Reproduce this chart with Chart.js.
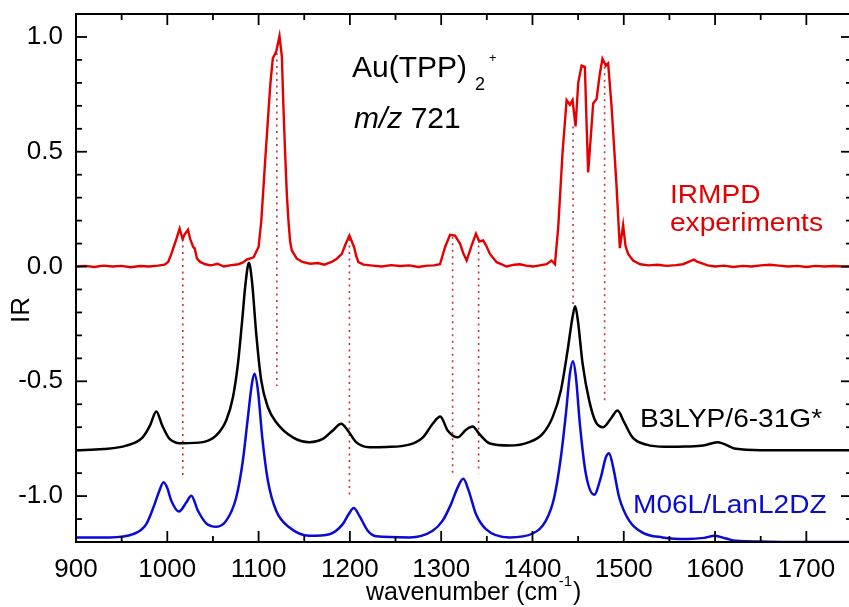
<!DOCTYPE html>
<html>
<head>
<meta charset="utf-8">
<script src="https://cdn.jsdelivr.net/npm/chart.js@4.4.1/dist/chart.umd.min.js"></script>
<style>
  html, body { margin: 0; padding: 0; background: #fff; overflow: hidden; width: 849px; height: 607px; }
  canvas { display: block; }
</style>
</head>
<body>
<canvas id="spectra" width="852" height="607"></canvas>
<script>
// IRMPD experimental spectrum: [wavenumber (cm-1), relative intensity]
const irmpdSpectrum = [
  [900,0.000],[910,0.003],[920,-0.002],[930,0.004],[940,0.000],[950,0.003],[960,-0.003],[970,0.002],
  [980,0.000],[990,0.004],[997,0.008],[1001,0.020],[1004,0.050],[1007,0.085],[1010,0.120],[1013.5,0.165],
  [1016.8,0.120],[1019,0.140],[1022.7,0.160],[1025,0.120],[1028.5,0.084],[1030,0.080],[1032.5,0.035],
  [1036,0.020],[1041.6,0.010],[1048,0.005],[1055,0.012],[1062,0.000],[1070,0.006],[1078,0.010],
  [1083,0.018],[1087,0.030],[1094.5,0.040],[1100,0.085],[1103,0.200],[1107.2,0.460],[1110.9,0.680],
  [1113,0.800],[1115.6,0.907],[1119.3,0.936],[1122.9,1.004],[1125.5,0.914],[1127,0.720],[1129.1,0.490],
  [1131,0.310],[1132.7,0.200],[1134.5,0.110],[1136.4,0.070],[1141.9,0.034],[1148,0.020],[1156.5,0.012],
  [1165,0.015],[1172,0.008],[1180,0.020],[1185.7,0.034],[1191.2,0.055],[1195,0.095],[1199.5,0.135],
  [1202,0.110],[1204.6,0.085],[1207,0.045],[1209.3,0.019],[1215,0.008],[1225,0.004],[1235,0.000],
  [1245,0.006],[1255,0.002],[1265,0.005],[1275,-0.002],[1285,0.004],[1292,0.005],[1298.7,0.010],
  [1304.2,0.084],[1309.7,0.138],[1315.2,0.135],[1320.6,0.100],[1324,0.060],[1327.9,0.026],[1333.4,0.092],
  [1338.1,0.143],[1341.7,0.109],[1346.1,0.114],[1350,0.085],[1353.4,0.055],[1360.8,0.019],[1371.7,0.000],
  [1380,0.008],[1386.3,0.010],[1393,0.004],[1400.8,0.000],[1408,0.005],[1415.5,0.010],[1420.9,0.026],
  [1424.6,0.010],[1428.2,0.170],[1433,0.500],[1437.4,0.725],[1441,0.705],[1443.9,0.725],[1447.2,0.610],
  [1450.1,0.800],[1453.8,0.875],[1457.4,0.870],[1459.3,0.620],[1461,0.410],[1463.6,0.550],[1466.5,0.710],
  [1470.2,0.730],[1473.8,0.840],[1476.7,0.905],[1480.4,0.875],[1482.9,0.885],[1486.6,0.700],[1492.1,0.350],
  [1495.7,0.080],[1499.3,0.180],[1501.9,0.090],[1504.8,0.055],[1510.2,0.026],[1518,0.010],[1527,0.005],
  [1537,0.008],[1547,0.003],[1557,0.006],[1565,0.010],[1571,0.020],[1576.7,0.030],[1581,0.020],
  [1585,0.015],[1592,0.005],[1600,0.000],[1610,0.004],[1620,-0.002],[1630,0.003],[1640,0.000],
  [1650,0.005],[1660,0.008],[1670,0.004],[1680,0.000],[1690,0.003],[1700,-0.002],[1710,0.003],
  [1720,0.000],[1730,0.002],[1740,0.000],[1750,0.000]
];

// B3LYP/6-31G* computed spectrum (offset below the experiment)
const b3lypSpectrum = [
  [900,-0.800],[930,-0.795],[955,-0.780],[973,-0.744],[981,-0.693],[988,-0.631],[994.5,-0.693],
  [1002.5,-0.751],[1017,-0.770],[1039,-0.765],[1053.6,-0.736],[1064.6,-0.670],[1071.9,-0.569],
  [1077.4,-0.423],[1081.7,-0.249],[1085.7,-0.074],[1089.4,0.016],[1093,-0.074],[1097.4,-0.292],
  [1102.9,-0.496],[1110.2,-0.613],[1119.3,-0.678],[1137.5,-0.744],[1155.7,-0.765],[1170.3,-0.751],
  [1181.3,-0.714],[1190.4,-0.685],[1197.7,-0.714],[1206.8,-0.765],[1221.4,-0.787],[1240,-0.786],
  [1265,-0.776],[1280,-0.744],[1290.7,-0.685],[1299,-0.653],[1307.1,-0.714],[1318.1,-0.744],
  [1327.2,-0.711],[1334.5,-0.697],[1341.7,-0.729],[1352.7,-0.770],[1374.6,-0.780],[1396.4,-0.765],
  [1411.1,-0.729],[1422.1,-0.656],[1431.1,-0.540],[1438.5,-0.365],[1443.9,-0.220],[1446.8,-0.173],
  [1449.7,-0.234],[1454.9,-0.423],[1462.1,-0.583],[1469.4,-0.678],[1477.4,-0.700],[1485.8,-0.663],
  [1493.2,-0.627],[1500.4,-0.678],[1509.6,-0.744],[1525,-0.776],[1545,-0.785],[1568,-0.784],
  [1587,-0.780],[1602.6,-0.765],[1623,-0.794],[1650,-0.800],[1700,-0.800],[1750,-0.800]
];

// M06L/LanL2DZ computed spectrum (lowest trace)
const m06lSpectrum = [
  [900,-1.180],[937,-1.180],[962.5,-1.166],[977,-1.122],[986.1,-1.035],[991,-0.980],[996,-0.940],
  [1000,-0.965],[1004.4,-1.020],[1012.8,-1.067],[1020.8,-1.028],[1026.3,-0.998],[1033.6,-1.064],
  [1042.7,-1.119],[1053.6,-1.134],[1064.6,-1.107],[1075.5,-1.006],[1082.8,-0.845],[1088.3,-0.656],
  [1092.7,-0.510],[1095.5,-0.467],[1099.3,-0.540],[1104,-0.744],[1110.2,-0.933],[1119.3,-1.064],
  [1133.9,-1.137],[1155.7,-1.173],[1177.6,-1.166],[1192.2,-1.122],[1198.8,-1.078],[1204.3,-1.052],
  [1210.4,-1.086],[1219.6,-1.151],[1228.7,-1.175],[1265,-1.180],[1290.7,-1.151],[1301.6,-1.107],
  [1310.8,-1.035],[1318.1,-0.962],[1324.2,-0.925],[1330.1,-0.976],[1338.1,-1.078],[1349,-1.144],
  [1374.6,-1.180],[1400.2,-1.163],[1414.7,-1.107],[1423.8,-1.006],[1431.1,-0.831],[1436.6,-0.642],
  [1441,-0.467],[1444.3,-0.413],[1447.6,-0.482],[1451.9,-0.685],[1458.5,-0.904],[1467.6,-0.994],
  [1474.9,-0.918],[1480.4,-0.831],[1484,-0.813],[1488.4,-0.875],[1495,-1.006],[1505.9,-1.107],
  [1520.5,-1.159],[1542.4,-1.180],[1570,-1.187],[1588,-1.182],[1599.7,-1.173],[1612,-1.185],
  [1623.4,-1.195],[1650,-1.198],[1700,-1.200],[1750,-1.200]
];

// Experimental band positions and the extent of their dotted guide lines
const bandPositions = [1017, 1120, 1199.5, 1312.5, 1341, 1444.5, 1479];
const bandTop       = [0.12, 0.93, 0.12, 0.13, 0.12, 0.61, 0.87];
const bandBottom    = [-0.91, -0.52, -1.00, -0.91, -0.90, -0.18, -0.595];

// Axis ranges and ticks
const xRange = [900, 1750];
const yRange = [-1.2, 1.1];
const xMajorTicks = [900, 1000, 1100, 1200, 1300, 1400, 1500, 1600, 1700];
const xMinorTicks = [950, 1050, 1150, 1250, 1350, 1450, 1550, 1650, 1750];
const yMajorTicks = [-1.0, -0.5, 0.0, 0.5, 1.0];
const yMinorTicks = [-1.1, -0.9, -0.8, -0.7, -0.6, -0.4, -0.3, -0.2, -0.1, 0.1, 0.2, 0.3, 0.4, 0.6, 0.7, 0.8, 0.9];

// Labels
const speciesName = 'Au(TPP)';
const speciesSub = '2';
const speciesCharge = '+';
const massLabelItalic = 'm/z';
const massLabelValue = ' 721';
const experimentLabel = ['IRMPD', 'experiments'];
const b3lypLabel = 'B3LYP/6-31G*';
const m06lLabel = 'M06L/LanL2DZ';
const yTitle = 'IR';
const xTitle = ['wavenumber (cm', '-1', ')'];

const FONT = '"Liberation Sans", Arial, Helvetica, sans-serif';
const RED = 'rgb(228,0,0)';
const BLUE = 'rgb(10,10,215)';
const DOT_RED = 'rgb(205,45,55)';
const TEXT_STRETCH = 1.08;

const toPoints = arr => arr.map(([x, y]) => ({ x, y }));

const guideDatasets = bandPositions.map((w, i) => ({
  data: [{ x: w, y: bandTop[i] }, { x: w, y: bandBottom[i] }],
  borderColor: DOT_RED,
  borderWidth: 1.6,
  borderDash: [2, 4.5],
  pointRadius: 0,
  tension: 0
}));

// Draws text slightly widened horizontally
function wideText(ctx, text, x, y, stretch) {
  ctx.save();
  ctx.translate(x, y);
  ctx.scale(stretch, 1);
  ctx.fillText(text, 0, 0);
  ctx.restore();
  return ctx.measureText(text).width * stretch;
}

// Frame with inward ticks on all four sides, plus the text annotations
const framePlugin = {
  id: 'frameAndText',
  afterDraw(chart) {
    const { ctx, chartArea: a, scales: { x, y } } = chart;
    ctx.save();
    ctx.strokeStyle = '#000';
    ctx.lineWidth = 2;
    ctx.strokeRect(a.left, a.top, a.right - a.left, a.bottom - a.top);

    const seg = (x1, y1, x2, y2) => { ctx.beginPath(); ctx.moveTo(x1, y1); ctx.lineTo(x2, y2); ctx.stroke(); };
    ctx.lineWidth = 1.8;
    const MAJ = 11, MIN = 6;
    xMajorTicks.forEach(v => { const p = x.getPixelForValue(v); seg(p, a.bottom, p, a.bottom - MAJ); seg(p, a.top, p, a.top + MAJ); });
    xMinorTicks.forEach(v => { const p = x.getPixelForValue(v); seg(p, a.bottom, p, a.bottom - MIN); seg(p, a.top, p, a.top + MIN); });
    yMajorTicks.forEach(v => { const p = y.getPixelForValue(v); seg(a.left, p, a.left + MAJ, p); seg(a.right, p, a.right - MAJ, p); });
    yMinorTicks.forEach(v => { const p = y.getPixelForValue(v); seg(a.left, p, a.left + MIN, p); seg(a.right, p, a.right - MIN, p); });

    ctx.textBaseline = 'alphabetic';
    ctx.textAlign = 'left';

    // Species label with subscript and charge
    ctx.fillStyle = '#000';
    ctx.font = `30px ${FONT}`;
    const sx = 352;
    ctx.fillText(speciesName, sx, 77);
    const sw = ctx.measureText(speciesName).width;
    ctx.font = `18px ${FONT}`;
    ctx.fillText(speciesSub, sx + sw + 8, 90);
    ctx.font = `13px ${FONT}`;
    ctx.fillText(speciesCharge, sx + sw + 22, 62);

    ctx.font = `italic 30px ${FONT}`;
    ctx.fillText(massLabelItalic, 354, 128);
    const mw = ctx.measureText(massLabelItalic).width;
    ctx.font = `30px ${FONT}`;
    ctx.fillText(massLabelValue, 354 + mw, 128);

    // Trace labels
    ctx.font = `26px ${FONT}`;
    ctx.fillStyle = RED;
    wideText(ctx, experimentLabel[0], 670, 203, TEXT_STRETCH);
    wideText(ctx, experimentLabel[1], 670, 231, TEXT_STRETCH);
    ctx.fillStyle = '#000';
    wideText(ctx, b3lypLabel, 640, 427, TEXT_STRETCH);
    ctx.fillStyle = BLUE;
    wideText(ctx, m06lLabel, 633, 513, TEXT_STRETCH);

    // Axis titles
    ctx.fillStyle = '#000';
    ctx.font = `26px ${FONT}`;
    ctx.save();
    ctx.translate(22, 310);
    ctx.rotate(-Math.PI / 2);
    ctx.textAlign = 'center';
    ctx.textBaseline = 'middle';
    ctx.fillText(yTitle, 0, 0);
    ctx.restore();

    let tx = 366;
    ctx.font = `25px ${FONT}`;
    tx += wideText(ctx, xTitle[0], tx, 600, 1.0) + 1;
    ctx.font = `15px ${FONT}`;
    tx += wideText(ctx, xTitle[1], tx, 586, 1.0) + 1;
    ctx.font = `25px ${FONT}`;
    wideText(ctx, xTitle[2], tx, 600, 1.0);

    ctx.restore();
  }
};

new Chart(document.getElementById('spectra'), {
  type: 'line',
  data: {
    datasets: [
      { data: toPoints(irmpdSpectrum), borderColor: RED, borderWidth: 2.4, pointRadius: 0, tension: 0 },
      { data: toPoints(b3lypSpectrum), borderColor: '#000', borderWidth: 2.5, pointRadius: 0, cubicInterpolationMode: 'monotone' },
      { data: toPoints(m06lSpectrum), borderColor: BLUE, borderWidth: 2.5, pointRadius: 0, cubicInterpolationMode: 'monotone' },
      ...guideDatasets
    ]
  },
  options: {
    responsive: false,
    animation: false,
    devicePixelRatio: 1,
    layout: { padding: { top: 14, right: 0, left: 0, bottom: 0 } },
    plugins: { legend: { display: false }, tooltip: { enabled: false } },
    scales: {
      x: {
        type: 'linear',
        min: xRange[0], max: xRange[1],
        grid: { display: false, drawTicks: false },
        border: { display: false },
        afterBuildTicks: s => { s.ticks = xMajorTicks.map(v => ({ value: v })); },
        afterFit: s => { s.height = 65; s.paddingLeft = 0; s.paddingRight = 0; },
        ticks: {
          autoSkip: false, maxRotation: 0, padding: 12, color: '#000',
          font: { family: FONT, size: 26 },
          callback: v => String(v)
        }
      },
      y: {
        type: 'linear',
        min: yRange[0], max: yRange[1],
        grid: { display: false, drawTicks: false },
        border: { display: false },
        afterBuildTicks: s => { s.ticks = yMajorTicks.map(v => ({ value: v })); },
        afterFit: s => { s.width = 76; s.paddingTop = 0; s.paddingBottom = 0; },
        ticks: {
          padding: 13, color: '#000',
          font: { family: FONT, size: 26 },
          callback: v => Number(v).toFixed(1)
        }
      }
    }
  },
  plugins: [framePlugin]
});
</script>
</body>
</html>
